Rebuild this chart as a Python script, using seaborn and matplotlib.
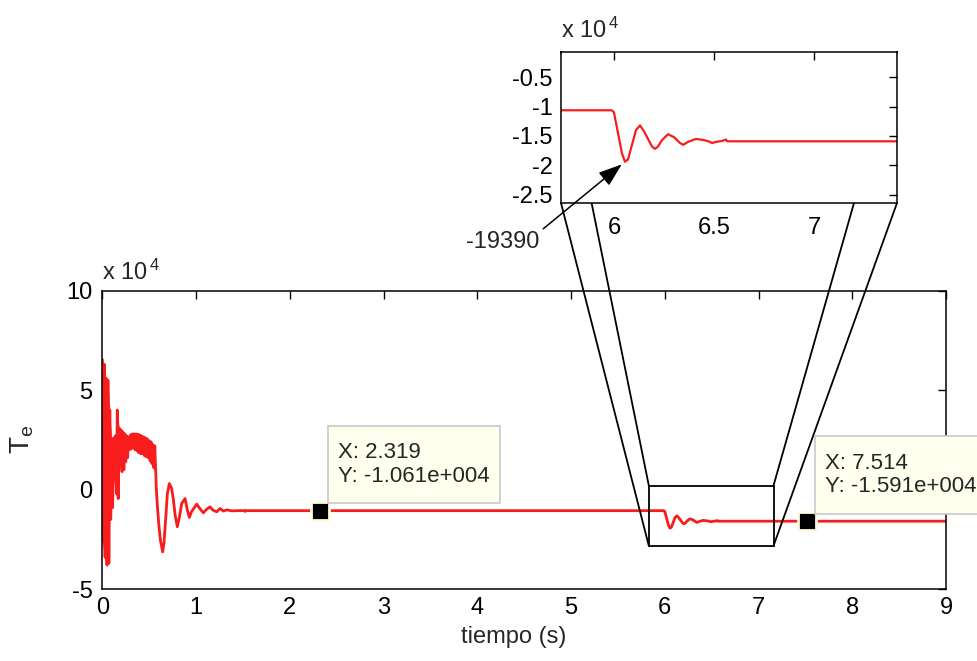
import matplotlib
matplotlib.use("Agg")
import matplotlib.pyplot as plt
import seaborn as sns
import pandas as pd
from matplotlib.patches import Rectangle, ConnectionPatch
from matplotlib.path import Path
from matplotlib.ticker import FuncFormatter, FixedLocator

# ---------------- data (Te in N·m) ----------------
# dense start-up oscillation: upper / lower envelope of the fast ripple
band_t = [0.00, 0.02, 0.04, 0.06, 0.08, 0.10, 0.12, 0.14, 0.16, 0.18,
          0.20, 0.22, 0.24, 0.26, 0.28, 0.30, 0.32, 0.34, 0.36, 0.38,
          0.40, 0.42, 0.44, 0.46, 0.48, 0.50, 0.52, 0.54, 0.56]
band_upper = [65500, 63000, 56000, 55000, 40000, 25000, 26000, 27000, 40000, 31000,
              30000, 29000, 28000, 27000, 26500, 27500, 28000, 28000, 28000, 27800,
              27500, 27000, 26500, 26000, 25500, 24500, 24000, 22500, 22000]
band_lower = [-26000, -34000, -38000, -37000, -15000, -9000, 5000, -2000, -4500, 13000,
              9000, 10000, 14000, 16000, 20000, 20500, 21000, 20000, 19500, 18500,
              18000, 18000, 17000, 16500, 16000, 14500, 13000, 11000, 9000]

# damped oscillation after the start-up and the constant load
tail_t = [0.575, 0.59, 0.605, 0.62, 0.644, 0.658, 0.68, 0.694, 0.715, 0.74,
          0.758, 0.776, 0.80, 0.82, 0.847, 0.883, 0.907, 0.929, 0.95, 1.007,
          1.04, 1.078, 1.11, 1.149, 1.18, 1.22, 1.256, 1.29, 1.33, 1.38,
          1.45, 1.52, 1.525, 1.53, 5.99]
tail_te = [1400, -10000, -18700, -25500, -31300, -27000, -12000, -2000, 3000, 600,
           -5000, -12500, -18700, -14500, -7000, -4500, -10300, -14000, -11300, -7300,
           -9500, -11700, -10000, -8700, -10300, -11200, -9500, -10800, -10200, -10700,
           -10600, -10610, -11000, -10610, -10610]

# load step near t = 6 s
step_t = [6.00, 6.02, 6.04, 6.055, 6.07, 6.09, 6.11, 6.13, 6.15, 6.17,
          6.19, 6.205, 6.22, 6.24, 6.27, 6.30, 6.33, 6.347, 6.37, 6.41,
          6.45, 6.48, 6.49, 6.51, 6.54, 6.56, 6.565, 6.60, 9.00]
step_te = [-11000, -14500, -18000, -19390, -19000, -16500, -14000, -13200, -14200, -15500,
           -16800, -17200, -16800, -15700, -14700, -15200, -16200, -16500, -16000, -15500,
           -15700, -16000, -16200, -16000, -15850, -15600, -15900, -15910, -15910]

tip_x = [2.319, 7.514]
tip_y = [-10610, -15910]
tip_labels = ["X: 2.319\nY: -1.061e+004", "X: 7.514\nY: -1.591e+004"]

min_t, min_te, min_label = 6.055, -19390, "-19390"

zoom_x = [5.83, 7.16]
zoom_y = [-28300, 2000]
inset_xlim = [5.735, 7.415]
inset_ylim = [-26440, -660]

main_xticks = [0, 1, 2, 3, 4, 5, 6, 7, 8, 9]
main_yticks = [-50000, 0, 50000, 100000]
inset_xticks = [6, 6.5, 7]
inset_yticks = [-25000, -20000, -15000, -10000, -5000]

# ---------------- build series ----------------
ts, vs = [], []
for t, u, l in zip(band_t, band_upper, band_lower):
    ts += [t, t + 0.01]
    vs += [u, l]
ts += tail_t + step_t
vs += tail_te + step_te
df = pd.DataFrame({"t": ts, "Te": vs})

# ---------------- style ----------------
sns.set_theme(style="white")
plt.rcParams["font.family"] = ["Liberation Sans", "DejaVu Sans"]
plt.rcParams["mathtext.fontset"] = "custom"
plt.rcParams["mathtext.rm"] = "Liberation Sans"
FS = 17
RED = "#f81c1c"


def tipbox(x0, y0, width, height, mutation_size):
    px, py = 0.45 * mutation_size, 0.75 * mutation_size
    x0, y0, x1, y1 = x0 - px, y0 - py, x0 + width + px, y0 + height + py
    return Path([(x0, y0), (x1, y0), (x1, y1), (x0, y1), (x0, y0)], closed=True)


fig = plt.figure(figsize=(9.77, 6.61), dpi=100)
W, H = 977, 661
ax = fig.add_axes([102.3 / W, 1 - 589 / H, (946 - 102.3) / W, (589 - 290.7) / H])
axin = fig.add_axes([561 / W, 1 - 203 / H, 336 / W, 151 / H])
axin.set_zorder(5)

fmt = FuncFormatter(lambda v, p: f"{v / 1e4:g}")


def style_axes(a, xt, yt, xpad, ypad):
    a.xaxis.set_major_locator(FixedLocator(xt))
    a.yaxis.set_major_locator(FixedLocator(yt))
    a.yaxis.set_major_formatter(fmt)
    a.xaxis.set_major_formatter(FuncFormatter(lambda v, p: f"{v:g}"))
    a.tick_params(direction="in", length=6, width=1.0, top=True, right=True,
                  labelsize=FS, colors="black")
    a.tick_params(axis="x", pad=xpad)
    a.tick_params(axis="y", pad=ypad)
    for s in a.spines.values():
        s.set_color("black")
        s.set_linewidth(1.1)
        s.set_visible(True)
    a.set_facecolor("white")


# main plot
ax.fill_between(band_t, band_lower, band_upper, color=RED, lw=0, zorder=2)
sns.lineplot(data=df, x="t", y="Te", estimator=None, sort=False,
             color=RED, linewidth=2.0, ax=ax, zorder=2)
ax.set_xlim(0, 9)
ax.set_ylim(-50000, 100000)
style_axes(ax, main_xticks, main_yticks, 6, 7)
ax.set_xlabel("tiempo (s)", fontsize=FS)
ax.xaxis.set_label_coords(0.488, -0.125)
ax.set_ylabel(r"$\mathregular{T_e}$", fontsize=FS + 3, labelpad=22)
ax.text(0, 1.02, r"x $\mathregular{10^{\,4}}$", transform=ax.transAxes,
        ha="left", va="bottom", fontsize=FS)

# zoom rectangle
ax.add_patch(Rectangle((zoom_x[0], zoom_y[0]), zoom_x[1] - zoom_x[0], zoom_y[1] - zoom_y[0],
                       fill=False, ec="black", lw=1.3, zorder=4))

# inset
sns.lineplot(data=df, x="t", y="Te", estimator=None, sort=False,
             color=RED, linewidth=1.6, ax=axin)
axin.set_xlim(*inset_xlim)
axin.set_ylim(*inset_ylim)
style_axes(axin, inset_xticks, inset_yticks, 10, 6)
axin.set_xlabel("")
axin.set_ylabel("")
axin.text(0, 1.06, r"x $\mathregular{10^{\,4}}$", transform=axin.transAxes,
          ha="left", va="bottom", fontsize=FS)
axin.annotate(min_label, xy=(min_t, min_te), xycoords="data",
              xytext=(-0.175, -0.26), textcoords="axes fraction",
              ha="center", va="center", fontsize=FS, annotation_clip=False,
              arrowprops=dict(arrowstyle="-|>,head_length=0.85,head_width=0.3",
                              color="black", lw=1.1, shrinkA=1, shrinkB=3,
                              relpos=(1.0, 0.95)))

# connector lines between zoom box and inset
pairs = [((0, 0), (zoom_x[0], zoom_y[0])), ((0, 1), (zoom_x[0], zoom_y[1])),
         ((1, 1), (zoom_x[1], zoom_y[1])), ((1, 0), (zoom_x[1], zoom_y[0]))]
for a_pt, b_pt in pairs:
    cp = ConnectionPatch(xyA=a_pt, coordsA=axin.transAxes, xyB=b_pt, coordsB=ax.transData,
                         color="black", lw=1.3, zorder=3)
    ax.add_artist(cp)
    cp.set_clip_on(False)

# data tips
sns.scatterplot(x=tip_x, y=tip_y, marker="s", s=160, color="black",
                edgecolor="#fffbe0", linewidth=2.0, zorder=8, ax=ax, clip_on=False)
for x, y, lab in zip(tip_x, tip_y, tip_labels):
    ax.annotate(lab, xy=(x, y), xycoords="data", xytext=(13.2, 17.3), textcoords="offset points",
                ha="left", va="bottom", fontsize=FS - 1, linespacing=1.15,
                annotation_clip=False, zorder=9,
                bbox=dict(boxstyle=tipbox, fc="#ffffee", ec="#c8c8c8", lw=1.2))

fig.savefig("out.png", dpi=100, facecolor="white")
